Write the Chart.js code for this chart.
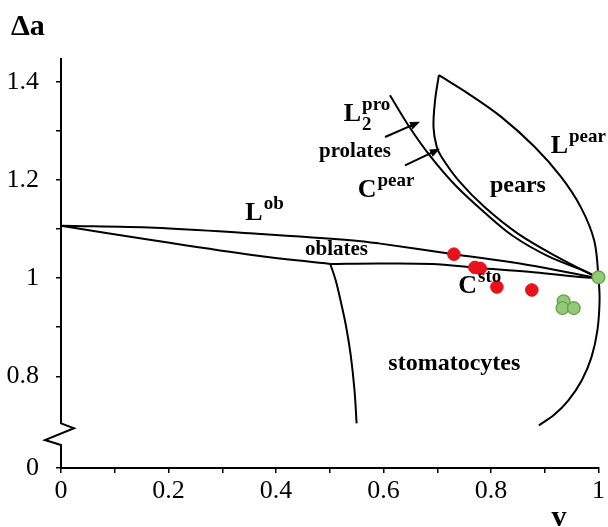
<!DOCTYPE html>
<html>
<head>
<meta charset="utf-8">
<script src="https://cdn.jsdelivr.net/npm/chart.js@4.4.0/dist/chart.umd.min.js"></script>
<style>
  html, body { margin: 0; padding: 0; background: #fff; }
  #wrap { width: 608px; height: 527px; }
</style>
</head>
<body>
<div id="wrap"><canvas id="phaseChart"></canvas></div>
<script>
// phase diagram: reduced volume v (x) vs area difference delta a (y)
// y axis is broken: the "0" tick sits just under the 0.7 region
const yZeroPos = 0.613;

const xTickValues = [0, 0.1, 0.2, 0.3, 0.4, 0.5, 0.6, 0.7, 0.8, 0.9, 1];
const xTickLabels = ['0', '', '0.2', '', '0.4', '', '0.6', '', '0.8', '', '1'];
const yTickValues = [yZeroPos, 0.8, 0.9, 1.0, 1.1, 1.2, 1.3, 1.4];
const yTickLabels = ['0', '0.8', '', '1', '', '1.2', '', '1.4'];

// boundary lines [v, da]
const lobLine = [[0, 1.107], [0.174, 1.103], [0.359, 1.091], [0.544, 1.077], [0.591, 1.071],
  [0.731, 1.049], [0.869, 1.027], [0.985, 1.003], [1.0, 1.0]];
const oblateLower = [[0, 1.107], [0.174, 1.077], [0.359, 1.047], [0.501, 1.029]];
const cstoLine = [[0.501, 1.029], [0.59, 1.030], [0.69, 1.029], [0.776, 1.021], [0.87, 1.013],
  [0.96, 1.003], [1.0, 1.0]];
const stomaLine = [[0.501, 1.029], [0.511, 0.996], [0.520, 0.955], [0.530, 0.904], [0.539, 0.843],
  [0.546, 0.772], [0.550, 0.704]];
const lpearLine = [[0.703, 1.414], [0.757, 1.377], [0.819, 1.329], [0.881, 1.268], [0.930, 1.207],
  [0.967, 1.145], [0.992, 1.077], [1.0, 1.0], [1.002, 0.955], [0.998, 0.894], [0.987, 0.839],
  [0.969, 0.792], [0.944, 0.751], [0.917, 0.721], [0.889, 0.700]];
const cpearLine = [[0.703, 1.414], [0.696, 1.363], [0.693, 1.308], [0.699, 1.268], [0.708, 1.247],
  [0.739, 1.200], [0.788, 1.145], [0.850, 1.091], [0.924, 1.043], [1.0, 1.0]];
const l2proLine = [[0.612, 1.373], [0.646, 1.312], [0.687, 1.249], [0.735, 1.188], [0.789, 1.133],
  [0.841, 1.086], [0.906, 1.045], [0.980, 1.012], [1.0, 1.0]];

// measured vesicles
const redPoints = [[0.731, 1.049], [0.770, 1.022], [0.780, 1.020], [0.811, 0.982], [0.876, 0.976]];
const greenPoints = [[1.0, 1.002], [0.935, 0.953], [0.933, 0.939], [0.954, 0.939]];

// text labels: [text, superscript, subscript, v, da, size]
const regionLabels = [
  ['L', 'ob', '', 0.343, 1.118, 26],
  ['oblates', '', '', 0.454, 1.047, 21],
  ['L', 'pro', '2', 0.526, 1.320, 26],
  ['prolates', '', '', 0.480, 1.247, 21],
  ['C', 'pear', '', 0.552, 1.165, 26],
  ['pears', '', '', 0.798, 1.175, 24],
  ['L', 'pear', '', 0.911, 1.255, 26],
  ['C', 'sto', '', 0.739, 0.969, 26],
  ['stomatocytes', '', '', 0.609, 0.812, 24]
];

// arrows from "prolates": [fromV, fromDa, toV, toDa]
const arrows = [[0.603, 1.288, 0.668, 1.319], [0.640, 1.230, 0.705, 1.264]];

// axis break zigzag, y values of its corners
const breakYs = [0.704, 0.694, 0.670, 0.660];

const serif = '"Liberation Serif", "Times New Roman", serif';

function toXY(list) {
  return list.map(p => ({x: p[0], y: p[1]}));
}

function lineSet(list) {
  return {
    data: toXY(list),
    showLine: true,
    borderColor: '#000',
    borderWidth: 2,
    pointRadius: 0,
    tension: 0.35,
    fill: false,
    clip: false,
    order: 1
  };
}

const overlay = {
  id: 'overlay',
  afterDatasetsDraw(chart) {
    const ctx = chart.ctx;
    const xs = chart.scales.x;
    const ys = chart.scales.y;
    const area = chart.chartArea;
    ctx.save();

    // broken y axis
    const x0 = area.left;
    ctx.strokeStyle = '#000';
    ctx.lineWidth = 2;
    ctx.beginPath();
    ctx.moveTo(x0, area.top);
    ctx.lineTo(x0, ys.getPixelForValue(breakYs[0]));
    ctx.lineTo(x0 + 13, ys.getPixelForValue(breakYs[1]));
    ctx.lineTo(x0 - 16, ys.getPixelForValue(breakYs[2]));
    ctx.lineTo(x0, ys.getPixelForValue(breakYs[3]));
    ctx.lineTo(x0, area.bottom + 1);
    ctx.stroke();

    // arrows
    ctx.fillStyle = '#000';
    arrows.forEach(a => {
      const x1 = xs.getPixelForValue(a[0]), y1 = ys.getPixelForValue(a[1]);
      const x2 = xs.getPixelForValue(a[2]), y2 = ys.getPixelForValue(a[3]);
      const ang = Math.atan2(y2 - y1, x2 - x1);
      ctx.beginPath();
      ctx.moveTo(x1, y1);
      ctx.lineTo(x2 - 6 * Math.cos(ang), y2 - 6 * Math.sin(ang));
      ctx.stroke();
      ctx.beginPath();
      ctx.moveTo(x2, y2);
      ctx.lineTo(x2 - 10 * Math.cos(ang) + 4 * Math.sin(ang), y2 - 10 * Math.sin(ang) - 4 * Math.cos(ang));
      ctx.lineTo(x2 - 10 * Math.cos(ang) - 4 * Math.sin(ang), y2 - 10 * Math.sin(ang) + 4 * Math.cos(ang));
      ctx.closePath();
      ctx.fill();
    });

    // region labels
    ctx.textBaseline = 'alphabetic';
    ctx.textAlign = 'left';
    regionLabels.forEach(l => {
      const px = xs.getPixelForValue(l[3]);
      const py = ys.getPixelForValue(l[4]);
      ctx.font = 'bold ' + l[5] + 'px ' + serif;
      ctx.fillText(l[0], px, py);
      const w = ctx.measureText(l[0]).width;
      ctx.font = 'bold 19px ' + serif;
      if (l[1]) ctx.fillText(l[1], px + w + 1, py - 11);
      if (l[2]) ctx.fillText(l[2], px + w + 1, py + 9);
    });

    // axis titles
    ctx.font = 'bold 30px ' + serif;
    ctx.fillText('\u0394a', area.left - 50, 35);
    ctx.fillText('v', area.right - 47, 526);
    ctx.restore();
  }
};

new Chart(document.getElementById('phaseChart'), {
  type: 'scatter',
  data: {
    datasets: [
      {
        data: toXY(redPoints),
        backgroundColor: '#e8121a',
        borderColor: '#e8121a',
        pointRadius: 6.3,
        borderWidth: 1,
        clip: false,
        order: 0
      },
      {
        data: toXY(greenPoints),
        backgroundColor: '#95c97a',
        borderColor: '#6aa84f',
        pointRadius: 6.3,
        borderWidth: 1.5,
        clip: false,
        order: 0
      },
      lineSet(lobLine),
      lineSet(oblateLower),
      lineSet(cstoLine),
      lineSet(stomaLine),
      lineSet(lpearLine),
      lineSet(cpearLine),
      lineSet(l2proLine)
    ]
  },
  options: {
    responsive: true,
    maintainAspectRatio: false,
    animation: false,
    layout: {
      padding: {top: 58, right: 7, left: 0, bottom: 0}
    },
    plugins: {
      legend: {display: false},
      tooltip: {enabled: false}
    },
    scales: {
      x: {
        type: 'linear',
        min: 0,
        max: 1,
        afterBuildTicks: (scale) => {
          scale.ticks = xTickValues.map(v => ({value: v}));
        },
        afterFit: (scale) => {
          scale.height = 59;
        },
        ticks: {
          autoSkip: false,
          maxRotation: 0,
          padding: 3,
          color: '#000',
          font: {family: serif, size: 26},
          callback: (value, index) => xTickLabels[index]
        },
        grid: {
          drawOnChartArea: false,
          drawTicks: true,
          tickLength: 5,
          color: '#000',
          lineWidth: 1.5
        },
        border: {display: true, color: '#000', width: 2}
      },
      y: {
        type: 'linear',
        min: yZeroPos,
        max: 1.449,
        afterBuildTicks: (scale) => {
          scale.ticks = yTickValues.map(v => ({value: v}));
        },
        afterFit: (scale) => {
          scale.width = 61;
        },
        ticks: {
          autoSkip: false,
          padding: 17,
          color: '#000',
          font: {family: serif, size: 26},
          callback: (value, index) => yTickLabels[index]
        },
        grid: {
          drawOnChartArea: false,
          drawTicks: true,
          tickLength: 5,
          color: '#000',
          lineWidth: 1.5
        },
        border: {display: false}
      }
    }
  },
  plugins: [overlay]
});
</script>
</body>
</html>
